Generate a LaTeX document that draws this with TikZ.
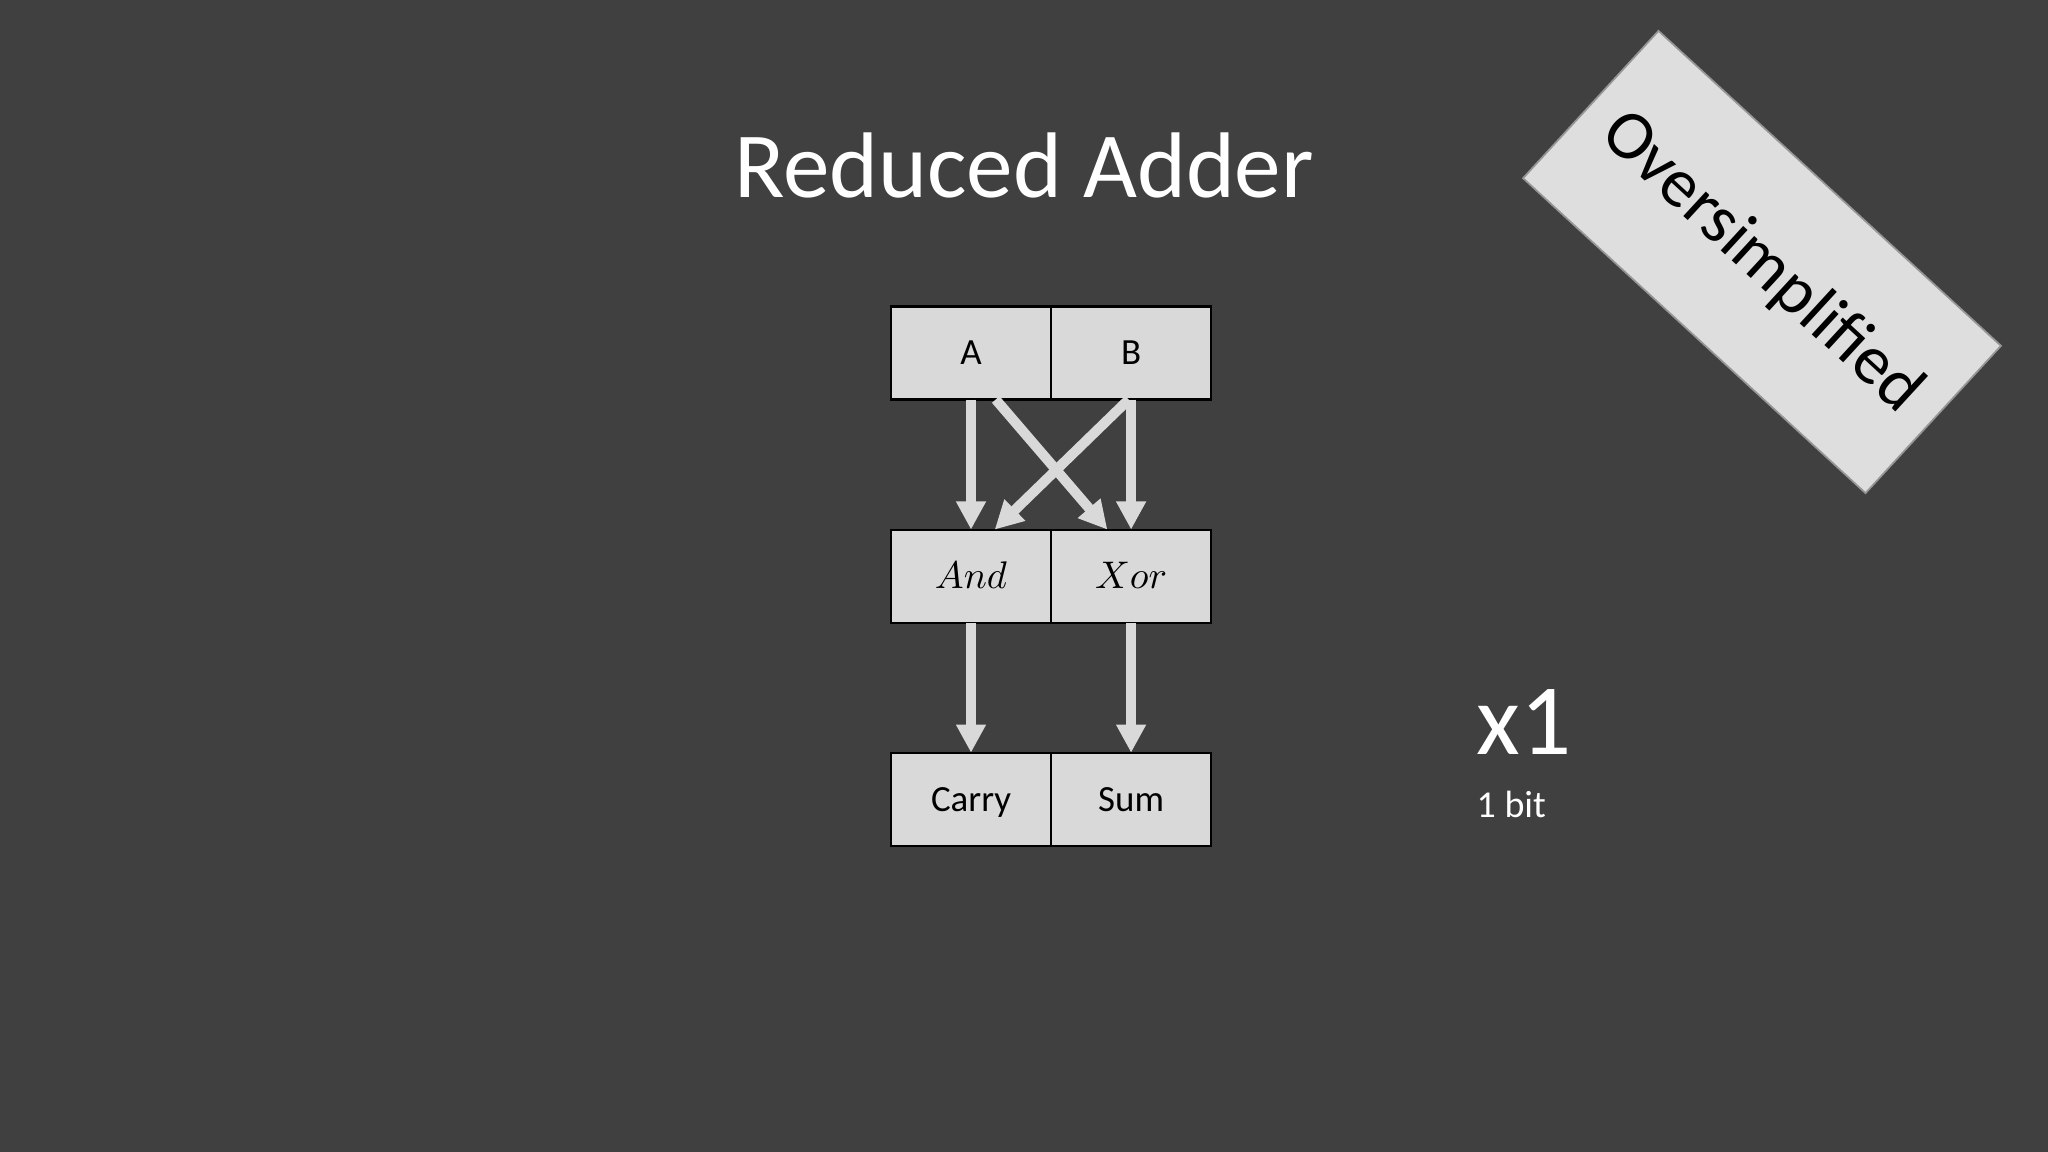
\documentclass[tikz,border=0pt]{standalone}
\usepackage{fontspec}
\setmainfont{Carlito}
\usetikzlibrary{positioning, arrows.meta}
\definecolor{slide}{RGB}{64,64,64}
\definecolor{boxgray}{RGB}{217,217,217}
\definecolor{tagfill}{RGB}{222,222,222}
\definecolor{tagline}{RGB}{150,150,150}
\newcommand\fsz[1]{\fontsize{#1}{1.2\dimexpr#1\relax}\selectfont}

\begin{document}
\begin{tikzpicture}[x=0.01cm, y=-0.01cm,
  cell/.style={draw=black, line width=0.6pt, fill=boxgray, minimum width=1.6cm, minimum height=0.93cm, inner sep=0pt, outer sep=0pt, text height=0.84em, text depth=0.16em, font=\fsz{10.5pt}},
  flow/.style={draw=boxgray, line width=2.85pt, -{Triangle[width=8pt, length=8pt]}},
  node distance=1.3cm and 0pt]
\fill[slide] (0,0) rectangle (2048,1152);
\useasboundingbox (0,0) rectangle (2048,1152);
\node[anchor=base, text=white, font=\fsz{26.5pt}] (title) at (1024,198) {Reduced Adder};
\node[cell] (a) at (971,353) {A};
\node[cell, right=of a] (b) {B};
\node[cell, below=of a] (and) {$And$};
\node[cell, right=of and] (xor) {$Xor$};
\node[cell, below=of and] (carry) {Carry};
\node[cell, right=of carry] (sum) {Sum};
\draw[flow] (a) -- (and);
\draw[flow] (b) -- (xor);
\draw[flow] (a.-62) -- (xor.117);
\draw[flow] (b.-93) -- (and.63);
\draw[flow] (and) -- (carry);
\draw[flow] (xor) -- (sum);
\node[anchor=base west, text=white, inner sep=0pt, font=\fsz{28.7pt}] (count) at (1476,754) {x1};
\node[anchor=base west, text=white, inner sep=0pt, font=\fsz{10.8pt}] (width) at (1476,817) {1 bit};
\node[draw=tagline, line width=0.5pt, fill=tagfill, rotate=-42.6, minimum width=4.65cm, minimum height=2cm, text height=1.1em, text depth=0em, font=\fsz{19.8pt}] (tag) at (1762,262) {Oversimplified};
\end{tikzpicture}
\end{document}
